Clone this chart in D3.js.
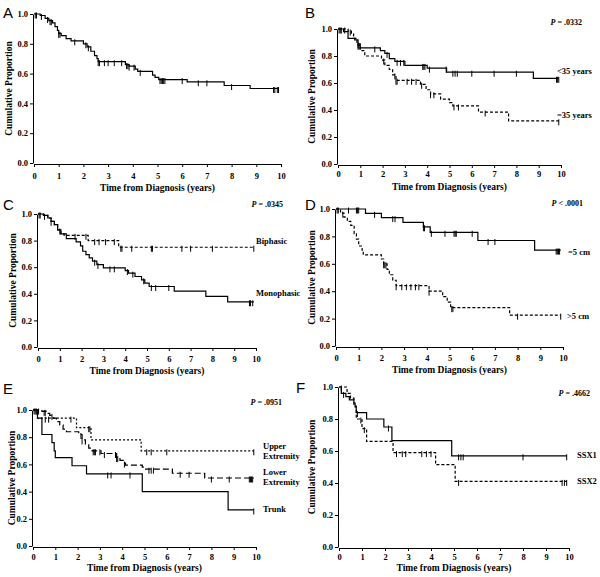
<!DOCTYPE html>
<html><head><meta charset="utf-8">
<script src="https://cdn.jsdelivr.net/npm/d3@7"></script>
<style>
body{margin:0;background:#fff;}
svg{display:block;}
.ax text{font-family:"Liberation Serif","Times New Roman",serif;font-weight:bold;font-size:8.5px;fill:#000;}
.ax path,.ax line{stroke:#000;stroke-width:1;}
.lbl{font-family:"Liberation Serif","Times New Roman",serif;font-weight:bold;font-size:8.5px;fill:#000;}
.ttl{font-family:"Liberation Serif","Times New Roman",serif;font-weight:bold;font-size:9.5px;fill:#000;}
.let{font-family:"Liberation Sans",Arial,sans-serif;font-size:15px;fill:#000;}
</style></head><body>
<svg id="c" width="600" height="577"></svg>
<script>
const xTicks = [0,1,2,3,4,5,6,7,8,9,10];
const yTicks = [0,0.2,0.4,0.6,0.8,1.0];
const xTitle = "Time from Diagnosis (years)";
const yTitle = "Cumulative Proportion";

// Panel A: all patients
const aAllT = [0,0.25,0.45,0.6,0.75,0.85,0.95,1.0,1.1,1.3,1.5,2.0,2.15,2.3,2.45,2.55,2.6,3.7,3.85,4.1,4.2,4.8,4.9,5.05,6.2,7.7,8.75];
const aAllS = [1,0.99,0.97,0.955,0.94,0.915,0.89,0.87,0.855,0.835,0.82,0.80,0.78,0.75,0.72,0.70,0.68,0.66,0.65,0.63,0.615,0.59,0.575,0.56,0.545,0.52,0.50];
const aAllC = [0.05,0.1,0.3,0.55,0.65,0.7,1.0,1.05,1.65,2.1,2.2,2.6,2.65,2.85,3.0,3.25,3.55,3.75,3.8,3.85,4.05,4.3,5.1,5.15,5.2,5.25,5.3,6.0,6.65,7.0,8.0,9.7,9.75,9.85,9.9];

// Panel B: age
const bYoungT = [0,0.25,0.45,0.75,0.9,1.0,1.9,2.1,2.3,2.55,3.0,4.0,4.87,8.76];
const bYoungS = [1,0.98,0.93,0.92,0.88,0.86,0.84,0.82,0.78,0.76,0.73,0.71,0.68,0.635];
const bYoungC = [0.05,0.1,0.15,0.9,0.95,1.65,2.2,2.65,2.8,2.95,3.8,3.85,3.9,4.1,4.85,5.15,5.25,5.35,6.0,7.0,8.0,9.8,9.85,9.9];
const bOldT = [0,0.45,0.6,0.7,0.85,1.0,1.2,1.95,2.1,2.3,2.45,2.6,3.7,3.95,4.15,4.6,5.0,5.15,6.3,7.65];
const bOldS = [1,0.985,0.97,0.93,0.89,0.84,0.80,0.77,0.73,0.70,0.66,0.62,0.59,0.55,0.52,0.48,0.455,0.43,0.385,0.32];
const bOldC = [0.3,0.55,0.9,2.05,2.55,2.6,2.65,3.1,3.3,3.5,3.75,4.15,4.3,5.2,5.4,6.6,9.9];

// Panel C: histology
const cBiT = [0,0.25,0.45,0.6,0.75,0.9,1.05,1.2,2.3,3.7];
const cBiS = [1,0.99,0.97,0.945,0.92,0.88,0.85,0.84,0.80,0.75];
const cBiC = [0.05,0.1,0.3,0.6,1.0,1.7,2.2,2.6,2.8,3.1,3.5,3.8,3.85,4.3,5.2,5.25,6.6,7.0,8.0,9.9];
const cMonoT = [0,0.25,0.45,0.6,0.75,0.9,1.05,1.3,1.75,1.95,2.05,2.2,2.35,2.5,2.7,3.0,4.0,4.15,4.45,4.75,4.9,5.1,6.25,7.7,8.7];
const cMonoS = [1,0.99,0.97,0.945,0.92,0.88,0.85,0.815,0.79,0.76,0.72,0.695,0.67,0.645,0.62,0.595,0.575,0.555,0.53,0.505,0.48,0.455,0.42,0.38,0.34];
const cMonoC = [2.6,2.75,3.3,3.5,4.1,4.35,4.85,5.2,5.4,6.0,9.7,9.75,9.85];

// Panel D: tumor size
const dSmallT = [0,1.3,2.0,2.95,3.85,4.15,6.25,8.75];
const dSmallS = [1,0.968,0.937,0.903,0.87,0.83,0.77,0.70];
const dSmallC = [0.05,0.1,0.55,0.9,0.95,1.0,1.7,2.5,2.6,3.85,3.9,4.2,4.8,5.2,5.25,5.3,6.0,6.7,7.0,9.7,9.75,9.8,9.85];
const dLargeT = [0,0.2,0.35,0.5,0.65,0.8,0.9,1.0,1.15,1.2,2.0,2.1,2.25,2.35,2.5,2.65,4.1,4.7,4.9,5.05,7.65];
const dLargeS = [1,0.97,0.94,0.91,0.88,0.82,0.78,0.73,0.70,0.665,0.635,0.60,0.56,0.52,0.48,0.44,0.40,0.36,0.32,0.28,0.225];
const dLargeC = [0.3,2.1,2.15,2.2,2.65,2.9,3.1,3.3,3.5,3.65,4.1,5.1,5.15,8.0,9.9];

// Panel E: site
const eUpperT = [0,0.2,1.95,2.6,4.85];
const eUpperS = [1,0.94,0.87,0.78,0.70];
const eUpperC = [0.55,0.7,1.7,2.5,2.55,5.1,5.3,6.0,9.9];
const eLowerT = [0,0.4,0.6,0.75,0.9,1.05,1.2,1.35,1.5,2.05,2.2,2.35,2.5,2.65,3.05,3.75,3.9,4.05,4.15,4.9,5.05,6.25,7.7];
const eLowerS = [1,0.99,0.975,0.96,0.94,0.915,0.89,0.86,0.84,0.82,0.78,0.75,0.72,0.70,0.68,0.65,0.63,0.61,0.595,0.58,0.565,0.535,0.50];
const eLowerC = [0.05,0.1,0.15,0.25,0.5,0.55,0.85,2.15,2.2,2.7,2.75,2.8,3.0,3.2,3.7,3.75,3.8,4.1,5.2,5.3,5.4,6.6,7.0,8.0,8.8,9.7,9.75,9.8,9.85];
const eTrunkT = [0,0.2,0.4,0.85,0.95,1.0,1.75,2.4,4.9,8.75];
const eTrunkS = [1,0.94,0.82,0.76,0.70,0.65,0.59,0.53,0.40,0.265];
const eTrunkC = [3.35,3.5,4.35,9.9];

// Panel F: fusion type
const fSsx1T = [0,0.1,0.3,0.45,0.65,0.7,0.75,1.2,1.95,2.3,4.9];
const fSsx1S = [1,0.96,0.94,0.92,0.90,0.875,0.84,0.80,0.75,0.665,0.57];
const fSsx1C = [0.2,0.8,2.15,5.2,5.3,5.4,8.0,9.9];
const fSsx2T = [0,0.35,0.5,0.65,0.75,1.0,1.2,2.35,4.2,5.05];
const fSsx2S = [1,0.96,0.93,0.88,0.80,0.74,0.66,0.59,0.515,0.41];
const fSsx2C = [0.1,0.95,1.1,2.5,2.75,2.9,3.6,3.8,4.0,5.2,9.7,9.8,9.9];

const SOLID=null, DASH="3,2", DOT="2,2", LONG="6,3";

const panels = [
 {letter:"A", lx:3, ly:18, x0:34, x1:281, yt:14, yb:163, tickY:179, titleY:191, yTitleX:9, p:null,
  series:[{t:aAllT,s:aAllS,c:aAllC,end:9.9,dash:SOLID}], labels:[]},
 {letter:"B", lx:305, ly:18, x0:338, x1:561, yt:29, yb:164, tickY:177, titleY:190, yTitleX:312, p:{text:".0332",op:"=",x:582,y:25},
  series:[{t:bYoungT,s:bYoungS,c:bYoungC,end:9.9,dash:SOLID},{t:bOldT,s:bOldS,c:bOldC,end:9.9,dash:DASH}],
  labels:[{x:557,y:74,lines:["<35 years"]},{x:557,y:118,lines:["=35 years"]}]},
 {letter:"C", lx:3, ly:210, x0:38, x1:256, yt:214, yb:347, tickY:362, titleY:374, yTitleX:13, p:{text:".0345",op:"=",x:283,y:207},
  series:[{t:cBiT,s:cBiS,c:cBiC,end:9.9,dash:DASH},{t:cMonoT,s:cMonoS,c:cMonoC,end:9.9,dash:SOLID}],
  labels:[{x:256,y:244,lines:["Biphasic"]},{x:256,y:296,lines:["Monophasic"]}]},
 {letter:"D", lx:305, ly:210, x0:336, x1:563, yt:209, yb:346, tickY:361, titleY:373, yTitleX:312, p:{text:".0001",op:"<",x:583,y:206},
  series:[{t:dSmallT,s:dSmallS,c:dSmallC,end:9.9,dash:SOLID},{t:dLargeT,s:dLargeS,c:dLargeC,end:9.9,dash:DASH}],
  labels:[{x:568,y:255,lines:["=5 cm"]},{x:567,y:319,lines:[">5 cm"]}]},
 {letter:"E", lx:3, ly:394, x0:33, x1:256, yt:410, yb:546, tickY:560, titleY:571, yTitleX:12, p:{text:".0951",op:"=",x:282,y:405},
  series:[{t:eUpperT,s:eUpperS,c:eUpperC,end:9.9,dash:DOT},{t:eLowerT,s:eLowerS,c:eLowerC,end:9.9,dash:LONG},{t:eTrunkT,s:eTrunkS,c:eTrunkC,end:9.9,dash:SOLID}],
  labels:[{x:263,y:449,lines:["Upper","Extremity"]},{x:263,y:475,lines:["Lower","Extremity"]},{x:263,y:512,lines:["Trunk"]}]},
 {letter:"F", lx:296, ly:393, x0:339, x1:569, yt:387, yb:547, tickY:560, titleY:571, yTitleX:312, p:{text:".4662",op:"=",x:590,y:396},
  series:[{t:fSsx1T,s:fSsx1S,c:fSsx1C,end:9.9,dash:SOLID},{t:fSsx2T,s:fSsx2S,c:fSsx2C,end:9.9,dash:DASH}],
  labels:[{x:577,y:458,lines:["SSX1"]},{x:577,y:484,lines:["SSX2"]}]}
];

const svg = d3.select("#c");

function survAt(t,s,c){ let v=s[0]; for(let i=0;i<t.length;i++){ if(t[i]<=c) v=s[i]; } return v; }

panels.forEach(P=>{
  const g = svg.append("g");
  const x = d3.scaleLinear().domain([0,10]).range([P.x0,P.x1]);
  const y = d3.scaleLinear().domain([0,1]).range([P.yb,P.yt]);
  const xa = g.append("g").attr("class","ax").attr("transform",`translate(0,${P.yb+1})`)
    .call(d3.axisBottom(x).tickValues(xTicks).tickSize(3).tickSizeOuter(0).tickPadding(2));
  xa.selectAll("text").attr("dy",null).attr("y",P.tickY-P.yb-1);
  g.append("g").attr("class","ax").attr("transform",`translate(${P.x0-1},0)`)
    .call(d3.axisLeft(y).tickValues(yTicks).tickFormat(d3.format(".1f")).tickSize(3).tickSizeOuter(0).tickPadding(2));
  g.append("text").attr("class","ttl").attr("x",(P.x0+P.x1)/2).attr("y",P.titleY).attr("text-anchor","middle").text(xTitle);
  g.append("text").attr("class","ttl").attr("transform",`translate(${P.yTitleX},${(P.yt+P.yb)/2}) rotate(-90)`).attr("text-anchor","middle").attr("dy","0.35em").text(yTitle);
  g.append("text").attr("class","let").attr("x",P.lx).attr("y",P.ly).text(P.letter);
  if(P.p){
    const t = g.append("text").attr("class","lbl").attr("x",P.p.x).attr("y",P.p.y).attr("text-anchor","end").style("font-size","8px");
    t.append("tspan").attr("font-style","italic").text("P");
    t.append("tspan").text(" "+P.p.op+" "+P.p.text);
  }
  const line = d3.line().x(d=>x(d[0])).y(d=>y(d[1])).curve(d3.curveStepAfter);
  P.series.forEach(S=>{
    const pts = S.t.map((ti,i)=>[ti,S.s[i]]);
    pts.push([S.end,S.s[S.s.length-1]]);
    g.append("path").attr("d",line(pts)).attr("fill","none").attr("stroke","#000").attr("stroke-width",1.2)
      .attr("stroke-dasharray",S.dash);
    g.selectAll(null).data(S.c).enter().append("line")
      .attr("x1",d=>x(d)).attr("x2",d=>x(d))
      .attr("y1",d=>y(survAt(S.t,S.s,d))-1.5).attr("y2",d=>y(survAt(S.t,S.s,d))+4.5)
      .attr("stroke","#000").attr("stroke-width",1);
  });
  P.labels.forEach(L=>{
    L.lines.forEach((ln,i)=>{
      g.append("text").attr("class","lbl").attr("x",L.x).attr("y",L.y+i*10).text(ln);
    });
  });
});
</script></body></html>
